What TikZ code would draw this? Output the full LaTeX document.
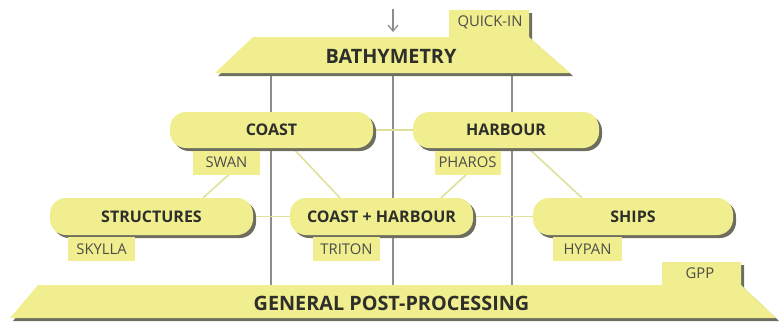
\documentclass[tikz,border=0pt]{standalone}
\usepackage{fontspec}
\setmainfont{Open Sans}
\usetikzlibrary{arrows.meta,calc,shadows}
\pgfdeclarelayer{bg}
\pgfsetlayers{bg,main}
\definecolor{fillY}{HTML}{F0EE8E}
\definecolor{lineY}{HTML}{E0E09A}
\definecolor{vgray}{HTML}{8C8C8C}
\definecolor{shad}{HTML}{6E6E60}
\definecolor{txt}{HTML}{2E2E2A}
\tikzset{
  pill/.style={fill=fillY, rounded corners=16pt, minimum height=36pt, inner sep=0pt,
    text=txt, font=\bfseries\fontsize{16}{16}\selectfont,
    drop shadow={shadow xshift=3pt, shadow yshift=-3pt, fill=shad, opacity=1}},
  tab/.style={fill=fillY, minimum height=24pt, inner sep=0pt, text=txt!85,
    font=\fontsize{14.8}{15}\selectfont},
  big/.style={text=txt, font=\bfseries\fontsize{19.8}{20}\selectfont, inner sep=0pt},
  small/.style={text=txt!85, font=\fontsize{14.8}{15}\selectfont, inner sep=0pt},
  vline/.style={draw=vgray, line width=1.3pt},
  conn/.style={draw=lineY, line width=1.6pt},
}
\begin{document}
\begin{tikzpicture}[x=1pt,y=-1pt]
\useasboundingbox (0,0) rectangle (780,325);
% trapezoids
\fill[shad] (218,76) -- (256,40) -- (452,40) -- (452,13) -- (532,13) -- (532,40) -- (573,76) -- cycle;
\fill[fillY] (215,73) -- (253,37) -- (449,37) -- (449,10) -- (529,10) -- (529,37) -- (570,73) -- cycle;
\fill[shad] (13,321) -- (41,288) -- (665,288) -- (665,265) -- (744,265) -- (744,288) -- (779,321) -- cycle;
\fill[fillY] (10,318) -- (38,285) -- (662,285) -- (662,262) -- (741,262) -- (741,285) -- (776,318) -- cycle;
\node[big] (bathy) at (391,56.5) {BATHYMETRY};
\node[small] (quick) at (490,22.5) {QUICK-IN};
\node[big] (gpp) at (391.5,303) {GENERAL POST-PROCESSING};
\node[small] (gpptab) at (700,273) {GPP};
% coordinates for vertical links
\coordinate (b1) at (271,74); \coordinate (g1) at (271,285);
\coordinate (b2) at (393,74); \coordinate (g2) at (393,285);
\coordinate (b3) at (512,74); \coordinate (g3) at (512,285);
\coordinate (ain) at (393,9); \coordinate (atop) at (393,32);
\draw[vgray, line width=1.2pt, -{Straight Barb[length=6pt,width=10pt]}] (ain) -- (atop);
% pills
\node[pill, minimum width=203pt] (coast) at (271.5,130) {COAST};
\node[pill, minimum width=186pt] (harbour) at (506,130) {HARBOUR};
\node[pill, minimum width=203pt, minimum height=37pt] (struct) at (151.5,216.5) {STRUCTURES};
\node[pill, minimum width=183pt, minimum height=37pt] (ch) at (381.5,216.5) {COAST + HARBOUR};
\node[pill, minimum width=200pt, minimum height=37pt] (ships) at (633,216.5) {SHIPS};
% tabs
\node[tab, minimum width=67pt] (swan) at (226.5,162.5) {SWAN};
\node[tab, minimum width=66pt] (pharos) at (467.5,162.5) {PHAROS};
\node[tab, minimum width=67pt] (skylla) at (101.5,249) {SKYLLA};
\node[tab, minimum width=67pt] (triton) at (346.5,249) {TRITON};
\node[tab, minimum width=69pt] (hypan) at (587.5,249) {HYPAN};
\begin{pgfonlayer}{bg}
\draw[vline] (b1) -- (g1);
\draw[vline] (b2) -- (g2);
\draw[vline] (b3) -- (g3);
\draw[conn] (coast.east) -- (harbour.west);
\draw[conn] (struct.east) -- (ch.west);
\draw[conn] (ch.east) -- (ships.west);
\draw[conn] ($(coast.south west)!0.433!(coast.south east)$) -- ($(struct.north west)!0.754!(struct.north east)$);
\draw[conn] ($(coast.south west)!0.606!(coast.south east)$) -- ($(ch.north west)!0.273!(ch.north east)$);
\draw[conn] ($(harbour.south west)!0.44!(harbour.south east)$) -- ($(ch.north west)!0.825!(ch.north east)$);
\draw[conn] ($(harbour.south west)!0.62!(harbour.south east)$) -- ($(ships.north west)!0.245!(ships.north east)$);
\end{pgfonlayer}
\end{tikzpicture}
\end{document}
